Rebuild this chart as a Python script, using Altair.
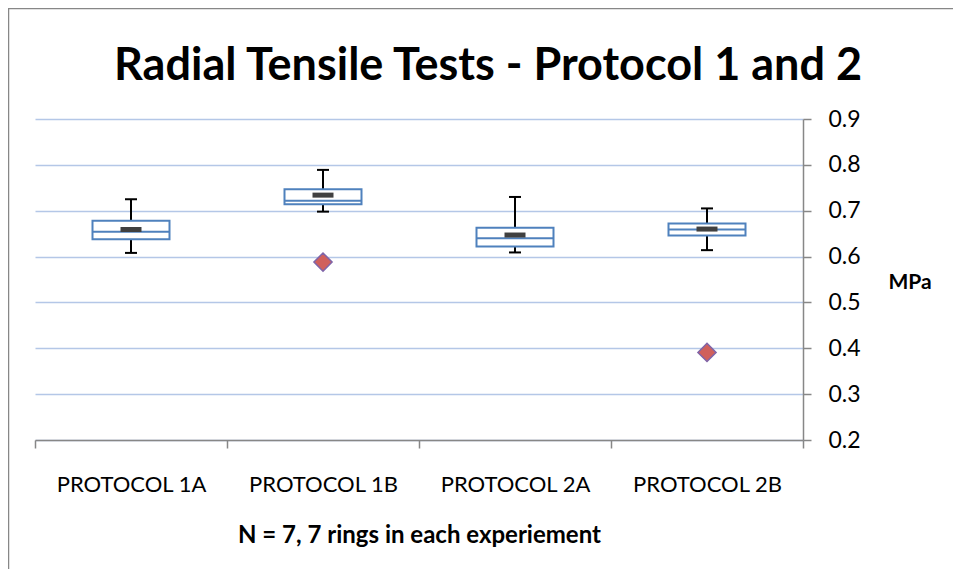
import altair as alt
import pandas as pd

categories = ["PROTOCOL 1A", "PROTOCOL 1B", "PROTOCOL 2A", "PROTOCOL 2B"]
whisker_low = [0.608, 0.698, 0.609, 0.614]
q1 = [0.638, 0.714, 0.622, 0.646]
median = [0.654, 0.722, 0.640, 0.659]
q3 = [0.678, 0.747, 0.663, 0.672]
whisker_high = [0.725, 0.789, 0.730, 0.705]
means = [0.659, 0.734, 0.647, 0.660]
outlier_cat = ["PROTOCOL 1B", "PROTOCOL 2B"]
outlier_val = [0.588, 0.391]
y_ticks = [0.2, 0.3, 0.4, 0.5, 0.6, 0.7, 0.8, 0.9]

title_text = "Radial Tensile Tests - Protocol 1 and 2"
x_title = "N = 7, 7 rings in each experiement"
y_title = "MPa"

W, H = 768, 321
FONT = "Lato"

df = pd.DataFrame({
    "cat": categories, "lo": whisker_low, "q1": q1, "med": median,
    "q3": q3, "hi": whisker_high, "mean": means,
})
odf = pd.DataFrame({"cat": outlier_cat, "val": outlier_val})

x = alt.X(
    "cat:N", sort=categories,
    scale=alt.Scale(paddingInner=0, paddingOuter=0),
    axis=alt.Axis(
        title=x_title, labelAngle=0, tickBand="extent", domainColor="#878787",
        domainWidth=1.5, tickColor="#878787", tickWidth=1.5, tickSize=8,
        labelFont=FONT, labelFontSize=22, labelColor="#000000",
        labelBaseline="alphabetic", labelPadding=43,
        titleFont=FONT, titleFontSize=24, titleFontWeight="bold", titleColor="#000000",
        titleBaseline="alphabetic", titleY=102, titleX=W / 2, titleAlign="center",
    ),
)
yscale = alt.Scale(domain=[0.2, 0.9], nice=False, zero=False)
yaxis = alt.Axis(
    orient="right", values=y_ticks, format=".1f", title=y_title,
    grid=True, gridColor="#b4c7e7", gridWidth=1.5,
    domainColor="#878787", domainWidth=1.5, tickColor="#878787", tickWidth=1.5, tickSize=8,
    labelFont=FONT, labelFontSize=23, labelColor="#000000", labelPadding=17,
    titleFont=FONT, titleFontSize=21, titleFontWeight="bold", titleColor="#000000",
    titleAngle=0, titleAlign="left", titleBaseline="middle", titleX=85, titleY=163,
)

base = alt.Chart(df)

whisk_hi = base.mark_rule(color="#000000", strokeWidth=2).encode(
    x=x, y=alt.Y("q3:Q", scale=yscale, axis=yaxis), y2="hi:Q")
whisk_lo = base.mark_rule(color="#000000", strokeWidth=2).encode(
    x=x, y=alt.Y("lo:Q", scale=yscale, axis=yaxis), y2="q1:Q")
box = base.mark_bar(size=77, fill="#ffffff", stroke="#4f81bd", strokeWidth=2).encode(
    x=x, y=alt.Y("q1:Q", scale=yscale, axis=yaxis), y2="q3:Q")
med = base.mark_tick(size=77, thickness=2, color="#4f81bd", opacity=1).encode(
    x=x, y=alt.Y("med:Q", scale=yscale, axis=yaxis))
mean = base.mark_tick(size=21, thickness=5, color="#404040", opacity=1).encode(
    x=x, y=alt.Y("mean:Q", scale=yscale, axis=yaxis))
cap_hi = base.mark_tick(size=12, thickness=2, color="#000000", opacity=1).encode(
    x=x, y=alt.Y("hi:Q", scale=yscale, axis=yaxis))
cap_lo = base.mark_tick(size=12, thickness=2, color="#000000", opacity=1).encode(
    x=x, y=alt.Y("lo:Q", scale=yscale, axis=yaxis))
outl = alt.Chart(odf).mark_point(
    shape="diamond", size=330, filled=True, fill="#d0605c", stroke="#7f64a8",
    strokeWidth=1.5, opacity=1).encode(
    x=x, y=alt.Y("val:Q", scale=yscale, axis=yaxis))

title = alt.Chart(pd.DataFrame({"t": [title_text]})).mark_text(
    font=FONT, fontSize=45, fontWeight="bold", color="#000000",
    align="center", baseline="alphabetic").encode(
    text="t:N", x=alt.value(453), y=alt.value(-39))

border = alt.Chart(pd.DataFrame({"b": [1]})).mark_rect(
    fill=None, stroke="#878787", strokeWidth=1.5, clip=False).encode(
    x=alt.value(-26.5), x2=alt.value(W + 200), y=alt.value(-110.5), y2=alt.value(H + 200))

chart = alt.layer(
    border, whisk_hi, whisk_lo, box, med, mean, cap_hi, cap_lo, outl, title
).properties(
    width=W, height=H,
    autosize=alt.AutoSizeParams(type="none"),
    padding={"left": 27, "top": 111, "right": 150, "bottom": 129},
).configure_view(stroke=None)

chart.save("out.html", embed_options={"renderer": "svg", "actions": False})
